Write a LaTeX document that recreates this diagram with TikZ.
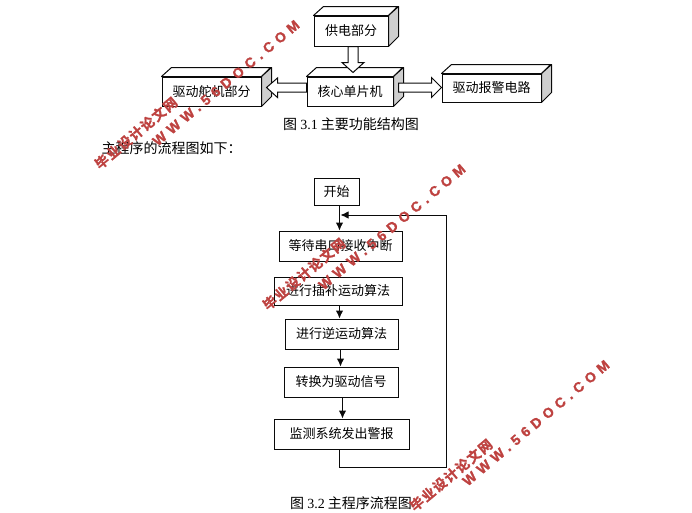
\documentclass[tikz,border=0pt]{standalone}
\usepackage{fontspec}
\usetikzlibrary{calc,arrows.meta}
\setmainfont{Liberation Serif}
\newfontfamily\cjk{Noto Sans CJK SC}
\newfontfamily\wmcjk[LetterSpace=10,FakeBold=1.5]{Noto Sans CJK SC Bold}
\newfontfamily\wmlat[LetterSpace=36,FakeBold=1.5]{Liberation Sans Bold}
\definecolor{wmred}{HTML}{BE4240}
\definecolor{sideface}{HTML}{CFCFCF}
\definecolor{lineblk}{HTML}{0A0A0A}
\tikzset{
  x=1pt,y=-1pt,
  boxcommon/.style={draw=lineblk,line width=1pt,fill=white,inner sep=0pt,font=\cjk\fontsize{13}{13}\selectfont,text=black},
  flowbox/.style={boxcommon},
  frontbox/.style={boxcommon},
  flowline/.style={draw=lineblk,line width=1pt},
  flowarrow/.style={flowline,-{Latex[length=8pt,width=7.5pt]}},
  blockarrow/.style={draw=lineblk,line width=1pt,fill=white,line join=miter},
  captiontext/.style={inner sep=0pt,font=\cjk\fontsize{14}{14}\selectfont,text=black},
  wmcn/.style={inner sep=0pt,rotate=40,text=wmred,font=\wmcjk\fontsize{13.5}{14}\selectfont},
  wmen/.style={inner sep=0pt,rotate=40,text=wmred,font=\wmlat\fontsize{14}{14}\selectfont},
}
% name, centre x, centre y, width, height, text
\newcommand{\cubebox}[6]{%
  \node[frontbox,minimum width=#4pt,minimum height=#5pt] (#1) at (#2,#3) {#6};
  \draw[draw=lineblk,line width=1pt,fill=white,line join=round] (#1.north west) -- ++(10,-9) -- ++(#4,0) -- (#1.north east) -- cycle;
  \draw[draw=lineblk,line width=1pt,fill=sideface,line join=round] (#1.north east) -- ++(10,-9) -- ++(0,#5) -- (#1.south east) -- cycle;
}
\begin{document}
\begin{tikzpicture}
\useasboundingbox (0,0) rectangle (692,512);
\fill[white] (0,0) rectangle (692,512);

% structure diagram
\cubebox{power}{351}{31}{74}{30}{供电部分}
\cubebox{servo}{211.5}{91.5}{99}{29}{驱动舵机部分}
\cubebox{core}{350}{91.5}{86}{29}{核心单片机}
\cubebox{alarm}{491.5}{88}{99}{28}{驱动报警电路}

\coordinate (pw) at ($(power.south)+(2,0)$);
\draw[blockarrow] ($(pw)+(-5,0)$) -- ++(0,16) -- ++(-6,0) -- ($(pw)+(0,26)$) -- ($(pw)+(11,16)$) -- ++(-6,0) -- ($(pw)+(5,0)$) -- cycle;
\coordinate (cl) at ($(core.west)+(0,-4)$);
\draw[blockarrow] ($(cl)+(0,-4.5)$) -- ++(-29,0) -- ++(0,-5) -- ($(cl)+(-40,0)$) -- ($(cl)+(-29,10)$) -- ++(0,-5.5) -- ($(cl)+(0,4.5)$) -- cycle;
\coordinate (cr) at ($(core.east)+(5,-4)$);
\draw[blockarrow] ($(cr)+(0,-4.5)$) -- ++(33,0) -- ++(0,-5.5) -- (cr -| alarm.west) -- ($(cr)+(33,10)$) -- ++(0,-5.5) -- ($(cr)+(0,4.5)$) -- cycle;

\node[captiontext,anchor=west] (cap1) at (283,124) {图 {\rmfamily 3.1} 主要功能结构图};
\node[captiontext,anchor=west] (intro) at (101.5,148) {主程序的流程图如下：};

% flow chart
\node[flowbox,minimum width=45pt,minimum height=27pt] (start) at (336.5,191.5) {开始};
\node[flowbox,minimum width=123pt,minimum height=30pt] (wait) at (340.5,246) {等待串口接收中断};
\node[flowbox,minimum width=128pt,minimum height=28pt] (interp) at (338,291) {进行插补运动算法};
\node[flowbox,minimum width=113pt,minimum height=30pt] (inverse) at (341.5,334) {进行逆运动算法};
\node[flowbox,minimum width=114pt,minimum height=30pt] (conv) at (341,382) {转换为驱动信号};
\node[flowbox,minimum width=135pt,minimum height=30pt] (mon) at (341.5,434) {监测系统发出警报};
\node[captiontext,anchor=west] (cap2) at (290,503) {图 {\rmfamily 3.2} 主程序流程图};

\coordinate (tA) at (339.5,0);
\draw[flowarrow] (tA |- start.south) -- (tA |- wait.north);
\draw[flowarrow] (tA |- interp.south) -- (tA |- inverse.north);
\coordinate (tB) at (340.5,0);
\draw[flowarrow] (tB |- inverse.south) -- (tB |- conv.north);
\coordinate (tC) at (342.5,0);
\draw[flowarrow] (tC |- conv.south) -- (tC |- mon.north);
\coordinate (lb) at (339.5,467);
\coordinate (rb) at (446,467);
\coordinate (rt) at (446,215);
\coordinate (lt) at (340.5,215);
\draw[flowarrow] (lb |- mon.south) -- (lb) -- (rb) -- (rt) -- (lt);

% watermarks
\node[wmcn] (wc1) at (136,133) {毕业设计论文网};
\node[wmen] (we1) at (226,83) {WWW.56DOC.COM};
\node[wmcn] (wc2) at (304,274) {毕业设计论文网};
\node[wmen] (we2) at (392,227) {WWW.56DOC.COM};
\node[wmcn] (wc3) at (451,475) {毕业设计论文网};
\node[wmen] (we3) at (536,423) {WWW.56DOC.COM};
\end{tikzpicture}
\end{document}
